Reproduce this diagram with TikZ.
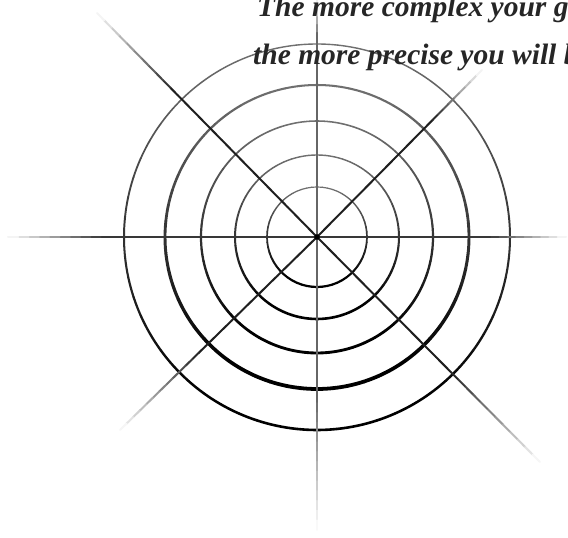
\documentclass[tikz,border=0pt]{standalone}
\usepackage{fontspec}
\setmainfont{Liberation Serif}
\usetikzlibrary{calc}
\tikzset{
  txt/.style={anchor=base west, inner sep=0pt, text=black!85, font=\bfseries\itshape\fontsize{29.5}{29.5}\selectfont},
}
% ray from center to end point, fading at the outer end
\newcommand{\fadeRay}[4]{% #1 end coord name, #2 max darkness, #3 fade fraction, #4 width
  \foreach \i in {0,...,29}{
    \pgfmathsetmacro\ta{\i/30}
    \pgfmathsetmacro\tb{(\i+1)/30}
    \pgfmathsetmacro\dd{#2*min(1,(1-(\i+0.5)/30)/#3)}
    \draw[line width=#4, line cap=round, color=black!\dd] ($(C)!\ta!(#1)$) -- ($(C)!\tb!(#1)$);
  }
}
\begin{document}
\begin{tikzpicture}[x=1pt,y=1pt]
\useasboundingbox (0,0) rectangle (568,538);
\clip (0,0) rectangle (568,538);
\fill[white] (0,0) rectangle (568,538);
\coordinate (C) at (317,301);
\coordinate (E) at (566,301);
\coordinate (W) at (8,301);
\coordinate (N) at (317,538);
\coordinate (S) at (317,8);
\coordinate (NW) at (97,525);
\coordinate (NE) at (482,468);
\coordinate (SW) at (120,108);
\coordinate (SE) at (540,76);
% circles with darker, thicker lower halves
\foreach \r/\w in {50/1.7, 82/2.0, 116/2.2, 152/2.9, 193/2.0}{
  \foreach \a in {0,6,...,354}{
    \pgfmathsetmacro\s{sin(\a+3)}
    \pgfmathsetmacro\dk{80-24*\s}
    \pgfmathsetmacro\lw{\w*(1-0.3*\s)}
    \draw[line width=\lw pt, line cap=round, color=black!\dk] (C) ++(\a:\r) arc[start angle=\a, end angle=\a+6, radius=\r pt];
  }
}
% rays
\fadeRay{E}{78}{0.3}{2pt}
\fadeRay{W}{78}{0.3}{2pt}
\fadeRay{N}{60}{0.15}{1.8pt}
\fadeRay{S}{60}{0.45}{1.8pt}
\fadeRay{NW}{88}{0.35}{2pt}
\fadeRay{NE}{88}{0.3}{2pt}
\fadeRay{SW}{88}{0.4}{2pt}
\fadeRay{SE}{88}{0.4}{2pt}
\fill[black] (C) circle (2.8pt);
% text
\node[txt] (t1) at (257,521) {The more complex your g};
\node[txt] (t2) at (253,473) {the more precise you will b};
\end{tikzpicture}
\end{document}
